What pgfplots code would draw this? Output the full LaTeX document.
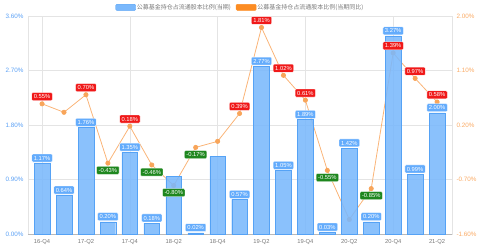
\documentclass[border=0pt]{standalone}
\usepackage{pgfplots}
\pgfplotsset{compat=1.18}
\usepackage{fontspec}
\setmainfont{Liberation Sans}
\newfontfamily\cjk{Noto Sans CJK SC}
\definecolor{barfill}{RGB}{122,184,252}
\definecolor{bardraw}{RGB}{85,162,245}
\definecolor{lineor}{RGB}{250,180,120}
\definecolor{mkor}{RGB}{248,165,90}
\definecolor{legor}{RGB}{252,140,35}
\definecolor{lblblue}{RGB}{100,172,252}
\definecolor{lblred}{RGB}{240,25,25}
\definecolor{lblgreen}{RGB}{30,135,30}
\definecolor{leftax}{RGB}{90,160,245}
\definecolor{rightax}{RGB}{250,170,100}
\definecolor{gridc}{RGB}{228,228,228}
\definecolor{xlab}{RGB}{120,120,120}

\pgfplotstableread{
x y
0 1.17
1 0.64
2 1.76
3 0.20
4 1.35
5 0.18
6 0.95
7 0.02
8 1.28
9 0.57
10 2.77
11 1.05
12 1.89
13 0.03
14 1.42
15 0.20
16 3.27
17 0.99
18 2.00
}\bars

\pgfplotstableread{
x y
0 0.55
1 0.41
2 0.70
3 -0.43
4 0.18
5 -0.46
6 -0.80
7 -0.17
8 -0.07
9 0.39
10 1.81
11 1.02
12 0.61
13 -0.55
14 -1.36
15 -0.85
16 1.39
17 0.97
18 0.58
}\yoy

\tikzset{lbl/.style={font=\fontsize{5.8}{6}\selectfont, text=white, inner xsep=2pt, inner ysep=0pt,
    minimum height=8pt, text height=4.3pt, text depth=0pt, rounded corners=1pt, draw=white, line width=0.3pt}}

\begin{document}
\begin{tikzpicture}
\path[use as bounding box] (0,0) rectangle (480pt,250pt);
\pgfplotsset{
  common/.style={at={(28pt,16pt)}, anchor=south west, scale only axis,
    width=424pt, height=218pt, xmin=-0.64, xmax=18.68,
    /pgf/number format/assume math mode=true, clip=false},
  pct/.style={nodes near coords={\pgfmathprintnumber[fixed,fixed zerofill,precision=2]{\pgfplotspointmeta}\%}, point meta=y}
}
% back axis: grid + line (right scale)
\begin{axis}[common, ymin=-1.6, ymax=2.0,
  xtick={0,4,8,12,16}, xticklabels={},
  ytick={-1.6,-0.7,0.2,1.1,2.0},
  yticklabel pos=right,
  yticklabel={\pgfmathprintnumber[fixed,fixed zerofill,precision=2]{\tick}\%},
  yticklabel style={font=\fontsize{6.3}{7}\selectfont, text=rightax, xshift=1pt},
  grid=major, grid style={draw=gridc, line width=0.6pt},
  axis line style={draw=gridc}, tick style={draw=none}]
\addplot[lineor, line width=0.8pt, mark=*, mark size=2.1pt, mark options={fill=mkor, draw=mkor}] table[x=x,y=y] {\yoy};
\end{axis}
% bar axis (left scale)
\begin{axis}[common, ymin=0, ymax=3.6,
  ytick={0,0.9,1.8,2.7,3.6},
  yticklabel={\pgfmathprintnumber[fixed,fixed zerofill,precision=2]{\tick}\%},
  yticklabel style={font=\fontsize{6.3}{7}\selectfont, text=leftax, xshift=-1pt},
  xtick={0,2,...,18},
  xticklabels={16-Q4,17-Q2,17-Q4,18-Q2,18-Q4,19-Q2,19-Q4,20-Q2,20-Q4,21-Q2},
  xticklabel style={font=\fontsize{5.8}{7}\selectfont, text=xlab, yshift=-2pt},
  axis x line*=bottom, axis y line*=left,
  x axis line style={draw=gray!55, -}, y axis line style={draw=none},
  tick style={draw=none},
  legend style={at={(0.5,1)}, anchor=center, yshift=8pt, draw=none, fill=none,
    legend columns=2, font=\cjk\fontsize{6}{7}\selectfont, text=xlab,
    inner sep=0pt, nodes={inner sep=1pt}},
  legend cell align=left,
  /tikz/every even column/.append style={column sep=4pt}]
\addplot[ybar, bar shift=0pt, bar width=15.7pt, fill=barfill, draw=bardraw, fill opacity=0.88, forget plot] table[x=x,y=y] {\bars};
\addlegendimage{legend image code/.code={\fill[barfill, draw=bardraw, rounded corners=1pt] (0pt,-2.3pt) rectangle (20pt,3.7pt);}}
\addlegendentry{公募基金持仓占流通股本比例(当期)}
\addlegendimage{legend image code/.code={\fill[legor, rounded corners=1pt] (0pt,-2.3pt) rectangle (20pt,3.7pt);}}
\addlegendentry{公募基金持仓占流通股本比例(当期同比)}
\addplot[draw=none, mark=none, pct, nodes near coords style={lbl, fill=lblblue, anchor=south, yshift=1pt}, forget plot]
 table[x=x,y=y] {
x y
0 1.17
1 0.64
2 1.76
3 0.20
4 1.35
5 0.18
7 0.02
9 0.57
10 2.77
11 1.05
12 1.89
13 0.03
14 1.42
15 0.20
16 3.27
17 0.99
18 2.00
};
\end{axis}
% label axis for the line (right scale)
\begin{axis}[common, ymin=-1.6, ymax=2.0, hide axis]
\addplot[draw=none, mark=none, pct, nodes near coords style={lbl, fill=lblred, anchor=south, yshift=3pt}]
 table[x=x,y=y] {
x y
0 0.55
2 0.70
4 0.18
9 0.39
10 1.81
11 1.02
12 0.61
16 1.39
17 0.97
18 0.58
};
\addplot[draw=none, mark=none, pct, nodes near coords style={lbl, fill=lblgreen, anchor=north, yshift=-3pt}]
 table[x=x,y=y] {
x y
3 -0.43
5 -0.46
6 -0.80
7 -0.17
13 -0.55
15 -0.85
};
\end{axis}
\end{tikzpicture}
\end{document}
